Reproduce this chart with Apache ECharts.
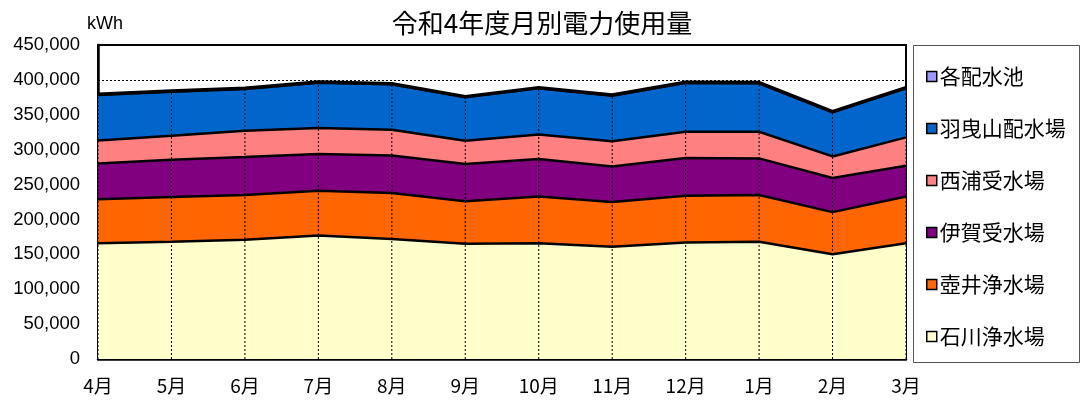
<!DOCTYPE html>
<html>
<head>
<meta charset="utf-8">
<script src="https://cdn.jsdelivr.net/npm/echarts@6/dist/echarts.min.js"></script>
<style>html,body{margin:0;padding:0;background:#fff}#c{width:1081px;height:400px}</style>
</head>
<body>
<div id="c"></div>
<script>
var months = ['4月','5月','6月','7月','8月','9月','10月','11月','12月','1月','2月','3月'];
var ishikawa = [166000,168000,171000,177000,172000,165000,166000,161000,167000,168000,150000,166000];
var tsuboi   = [63000,64000,64000,64000,66000,61000,67000,64000,67000,67000,60500,67000];
var iga      = [51000,53600,54400,52700,53800,53400,53500,51000,54000,52500,48800,44000];
var nishiura = [33000,34400,37800,37300,36800,33400,35400,35900,37700,38200,31000,40600];
var habikino = [65500,63000,59800,65000,65000,62200,66000,65500,70000,69400,63200,70300];
var haisuichi= [1000,1000,1000,1000,1000,1000,1000,1000,1000,1000,1000,1000];
var seriesNames = ['石川浄水場','壺井浄水場','伊賀受水場','西浦受水場','羽曳山配水場','各配水池'];
var seriesData = [ishikawa, tsuboi, iga, nishiura, habikino, haisuichi];
var colors = ['#FFFFCC','#FF6600','#800080','#FF8080','#0066CC','#9999FF'];

var totals = months.map(function(m, i){
  var s = 0; seriesData.forEach(function(a){ s += a[i]; }); return s;
});

var chart = echarts.init(document.getElementById('c'), null, {renderer:'canvas'});
var series = seriesNames.map(function(n, k){
  return {
    name: n, type: 'line', stack: 'total', data: seriesData[k],
    symbol: 'none', showSymbol: false,
    itemStyle: {color: colors[k]},
    lineStyle: {color: '#000', width: k === seriesNames.length - 1 ? 3.5 : 2.5},
    areaStyle: {color: colors[k], opacity: 1},
    z: 2
  };
});
series.push({
  type: 'custom', name: 'drop', z: 4, silent: true,
  data: totals.map(function(t, i){ return [i, t]; }),
  renderItem: function(params, api){
    var p0 = api.coord([api.value(0), 0]);
    var p1 = api.coord([api.value(0), api.value(1)]);
    return {type:'line', shape:{x1:p0[0], y1:p0[1], x2:p1[0], y2:p1[1]},
            style:{stroke:'#000', lineWidth:1, lineDash:[2,2]}};
  }
});

chart.setOption({
  animation: false,
  backgroundColor: '#fff',
  title: {
    text: '令和4年度月別電力使用量', left: 537, textAlign: 'center', top: 5,
    textStyle: {fontFamily: 'Noto Sans CJK JP', fontSize: 26, fontWeight: 'normal', color: '#000'}
  },
  graphic: [
    {type:'text', left: 87, top: 15, style:{text:'kWh', fontFamily:'Liberation Sans', fontSize:18, fill:'#000'}},
    {type:'rect', shape:{x:913.5, y:45.5, width:166, height:317}, style:{fill:null, stroke:'#555', lineWidth:1}, z: 0}
  ],
  legend: {
    orient: 'vertical', left: 921, top: 61,
    data: ['各配水池','羽曳山配水場','西浦受水場','伊賀受水場','壺井浄水場','石川浄水場'],
    icon: 'rect', itemWidth: 10, itemHeight: 10, itemGap: 31,
    itemStyle: {borderColor: '#000', borderWidth: 1.5},
    textStyle: {fontFamily: 'Noto Sans CJK JP', fontSize: 21, color: '#000', padding: [0,0,0,-2]},
    selectedMode: false
  },
  grid: {left: 98, right: 175, top: 45, bottom: 41, show: true, borderColor: '#000', borderWidth: 2, backgroundColor: 'transparent', outerBoundsMode: 'none'},
  xAxis: {
    type: 'category', data: months, boundaryGap: false,
    axisLine: {lineStyle: {color: '#000', width: 2.5}},
    axisTick: {inside: true, length: 5, lineStyle: {color: '#000', width: 2}},
    axisLabel: {fontFamily: 'Noto Sans CJK JP', fontSize: 19, color: '#000', margin: 17},
    splitLine: {show: false}
  },
  yAxis: {
    type: 'value', min: 0, max: 450000, interval: 50000,
    axisLine: {show: true, lineStyle: {color: '#000', width: 2.5}},
    axisTick: {show: false},
    axisLabel: {fontFamily: 'Liberation Sans', fontSize: 18.5, color: '#000', margin: 18,
      formatter: function(v){ return v.toLocaleString('en-US'); }},
    splitLine: {show: true, lineStyle: {color: '#000', width: 1, type: [2,2]}}
  },
  series: series
});
</script>
</body>
</html>
